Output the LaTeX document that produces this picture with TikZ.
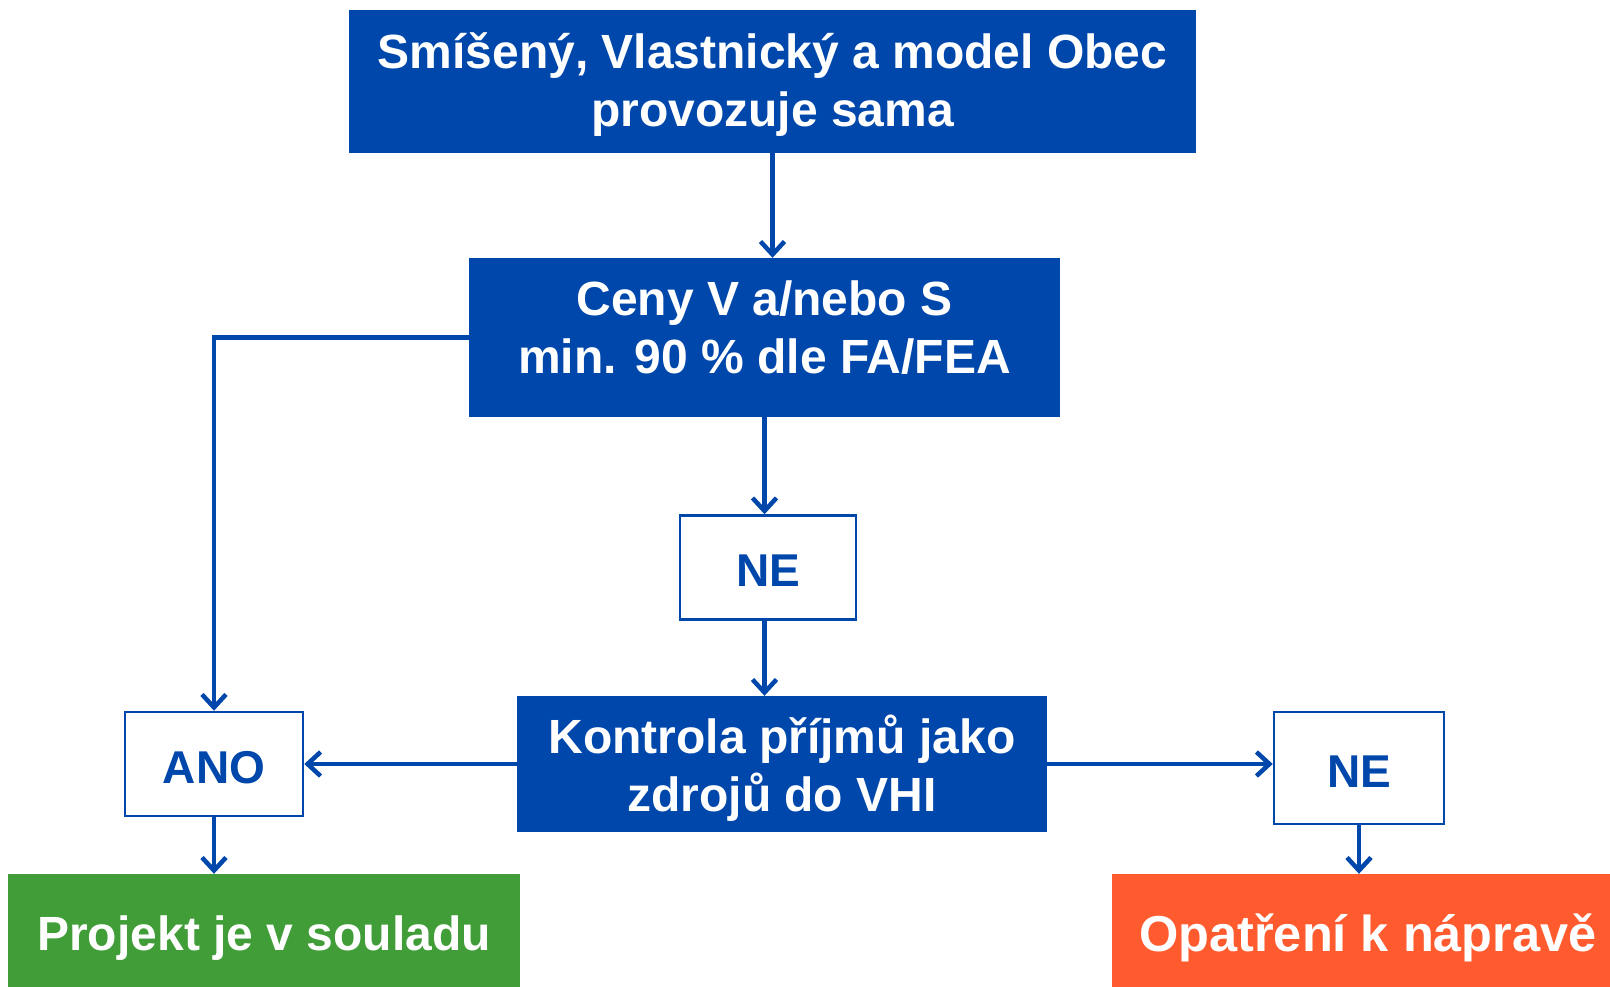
\documentclass[tikz,border=0pt]{standalone}
\usepackage{fontspec}
\setmainfont{Liberation Sans}
\usetikzlibrary{arrows.meta, calc}
\definecolor{modra}{RGB}{0,71,171}
\definecolor{zelena}{RGB}{64,157,55}
\definecolor{oranz}{RGB}{255,91,46}

\begin{document}
\begin{tikzpicture}[
  x=1pt, y=-1pt,
  >={Straight Barb[length=13pt, width=24pt, line width=4.5pt]},
  plny/.style={fill=#1, text=white, inner sep=0pt, align=center,
    font=\fontsize{48}{58}\selectfont\bfseries},
  odpoved/.style={draw=modra, line width=2.5pt, fill=white, text=modra,
    inner sep=0pt, text height=38pt, text depth=0pt,
    font=\fontsize{46}{55}\selectfont\bfseries},
  spoj/.style={draw=modra, line width=4.5pt, ->},
  ]
  % pevny okraj obrazku
  \useasboundingbox (0,0) rectangle (1610,986);

  % bloky (text height posouva posledni radek)
  \node[plny=modra, minimum width=847pt, minimum height=143pt,
    text height=90pt, text depth=0pt] (model) at (772.5, 81.5)
    {Smíšený, Vlastnický a model Obec\\provozuje sama};
  \node[plny=modra, minimum width=591pt, minimum height=159pt,
    text height=72pt, text depth=0pt] (ceny) at (764.5, 337.5)
    {Ceny V a/nebo S\\min. 90 \% dle FA/FEA};
  \node[odpoved, minimum width=176pt, minimum height=104pt] (ne1) at (768, 567.5) {NE};
  \node[plny=modra, minimum width=530pt, minimum height=136pt,
    text height=95pt, text depth=0pt] (kontrola) at (782, 764)
    {Kontrola příjmů jako\\zdrojů do VHI};
  \node[odpoved, minimum width=178pt, minimum height=104pt] (ano) at (214, 764) {ANO};
  \node[odpoved, minimum width=170pt, minimum height=112pt] (ne2) at (1359, 768) {NE};

  % vysledky (presahuji dolni okraj)
  \node[plny=zelena, minimum width=512pt, minimum height=128pt] (soulad) at (264, 938)
    {\raisebox{10pt}{Projekt je v souladu}};
  \node[plny=oranz, minimum width=512pt, minimum height=128pt,
    font=\fontsize{50.5}{58}\selectfont\bfseries] (naprava) at (1368, 938)
    {\raisebox{10pt}{Opatření k nápravě}};

  % spojnice
  \draw[spoj] (model.south) -- (model.south |- ceny.north);
  \draw[spoj] (ceny.west) -| (ano.north);
  \draw[spoj] (ceny.south) -- (ceny.south |- ne1.north);
  \draw[spoj] (ceny.south |- ne1.south) -- (ceny.south |- kontrola.north);
  \draw[spoj] (kontrola.west) -- (ano.east);
  \draw[spoj] (kontrola.east) -- (kontrola.east -| ne2.west);
  \draw[spoj] (ano.south) -- (ano.south |- soulad.north);
  \draw[spoj] (ne2.south) -- (ne2.south |- naprava.north);
\end{tikzpicture}
\end{document}
